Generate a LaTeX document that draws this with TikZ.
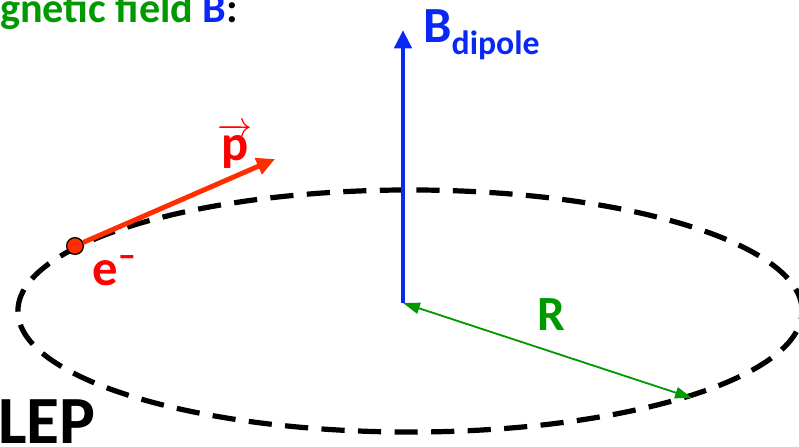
\documentclass[tikz,border=0pt]{standalone}
\usepackage{fontspec}
\setmainfont{Carlito}
\usetikzlibrary{arrows.meta}

\definecolor{fgreen}{RGB}{0,153,0}
\definecolor{bblue}{RGB}{10,40,245}
\definecolor{pred}{RGB}{255,45,0}

\begin{document}
\begin{tikzpicture}[x=0.025cm,y=-0.025cm,
  ring/.style={line width=3.7pt,dash pattern=on 16.5pt off 9.5pt},
  vec/.style={-{Triangle[length=13pt,width=12pt]},line width=3.5pt},
  rad/.style={{Triangle[length=12pt,width=8pt]}-{Triangle[length=12pt,width=8pt]},fgreen,line width=1.3pt},
  lbl/.style={inner sep=0pt,font=\bfseries\fontsize{36}{40}\selectfont}
]
  \useasboundingbox (0,0) rectangle (799,446);

  \draw[ring] (410,311) ellipse [x radius=9.8cm,y radius=3.025cm];

  \coordinate (o)  at (403,303);
  \coordinate (bt) at (403,30);
  \coordinate (pt) at (275,159);
  \coordinate (rt) at (692,398);
  \node[circle,draw=black,fill=pred,line width=0.9pt,minimum size=0.42cm,inner sep=0pt](el) at (75,246) {};

  \draw[vec,bblue](o)--(bt);
  \draw[vec,pred](el)--(pt);
  \draw[rad](o)--(rt);

  \node[lbl,fgreen,font=\bfseries\fontsize{30}{34}\selectfont,anchor=base west](ttl) at (0,23)
       {gnetic field \textcolor{bblue}{B}\textcolor{black}{:}};
  \node[lbl,bblue,anchor=base west](bd) at (423,43)
       {B\raisebox{-8.5pt}{\fontsize{24}{26}\selectfont dipole}};
  \node[lbl,red,anchor=base](pl) at (235,160) {$\overrightarrow{\mbox{p}}$};
  \node[lbl,red,anchor=base west](el-l) at (92,285) {e\raisebox{0.35em}{\fontsize{26}{26}\selectfont –}};
  \node[lbl,fgreen,font=\bfseries\fontsize{35}{40}\selectfont,anchor=base](rl) at (551,330) {R};
  \node[lbl,font=\bfseries\fontsize{48}{52}\selectfont,anchor=base west](lep) at (-2,443) {LEP};
\end{tikzpicture}
\end{document}
